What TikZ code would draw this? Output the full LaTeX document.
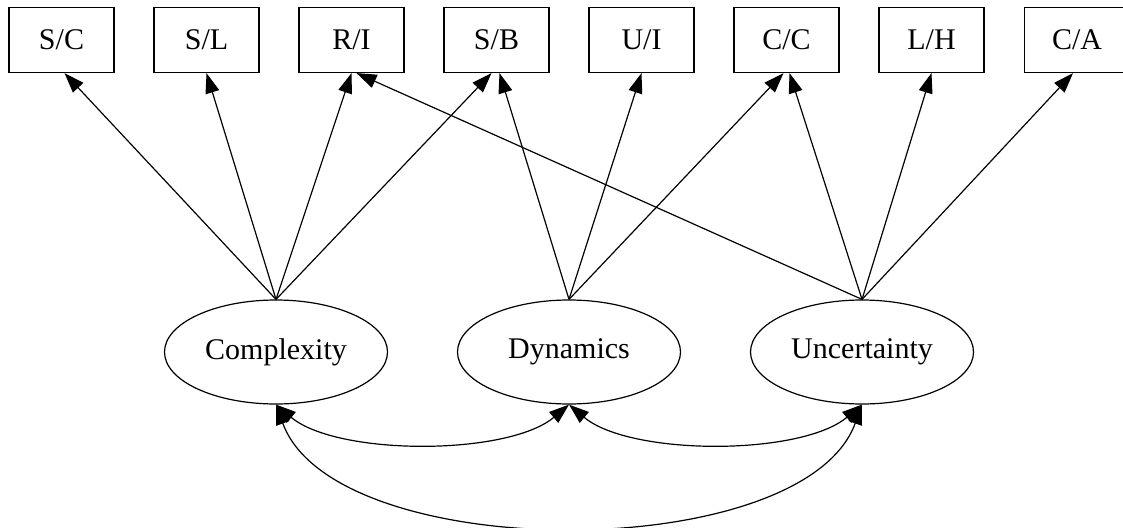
\documentclass[tikz,border=0pt]{standalone}
\usepackage{fontspec}
\setmainfont{Liberation Serif}
\usetikzlibrary{shapes.geometric,arrows.meta}

\begin{document}
\begin{tikzpicture}[x=1pt,y=1pt,line width=1.2pt,>={Triangle[length=20pt,width=14pt]}]
        \useasboundingbox (0,0) rectangle (1123,-527);
        \begin{scope}[every node/.style={rectangle,draw=black,minimum width=105pt,minimum height=65pt,inner sep=0pt,font=\fontsize{30}{36}\selectfont}]
            \node (sc) at (61.5,-40) {S/C};
            \node (sl) at (206.5,-40) {S/L};
            \node (ri) at (351.5,-40) {R/I};
            \node (sb) at (496.5,-40) {S/B};
            \node (ui) at (641.5,-40) {U/I};
            \node (cc) at (786.5,-40) {C/C};
            \node (lh) at (931.5,-40) {L/H};
            \node (ca) at (1077,-40) {C/A};
        \end{scope}
        \begin{scope}[every node/.style={ellipse,draw=black,minimum width=223pt,minimum height=104pt,inner sep=0pt,font=\fontsize{30}{36}\selectfont}]
            \node (cx) at (276,-352) {Complexity};
            \node (dy) at (569,-352) {Dynamics};
            \node (un) at (862,-352) {Uncertainty};
        \end{scope}
        \begin{scope}[every edge/.style={draw,->}]
            \path (cx.north) edge ([xshift=3pt]sc.south);
            \path (cx.north) edge (sl.south);
            \path (cx.north) edge (ri.south);
            \path (cx.north) edge ([xshift=-5pt]sb.south);

            \path (dy.north) edge ([xshift=3pt]sb.south);
            \path (dy.north) edge (ui.south);
            \path (dy.north) edge ([xshift=-3pt]cc.south);

            \path (un.north) edge ([xshift=5pt]ri.south);
            \path (un.north) edge ([xshift=3pt]cc.south);
            \path (un.north) edge (lh.south);
            \path (un.north) edge ([xshift=-4pt]ca.south);

            \path (cx.south) edge[<->,out=-40,in=-140,looseness=0.7] (dy.south);
            \path (dy.south) edge[<->,out=-40,in=-140,looseness=0.7] (un.south);
            \path (cx.south) edge[<->,out=-70,in=-110,looseness=0.75] (un.south);
        \end{scope}
    \end{tikzpicture}
\end{document}
